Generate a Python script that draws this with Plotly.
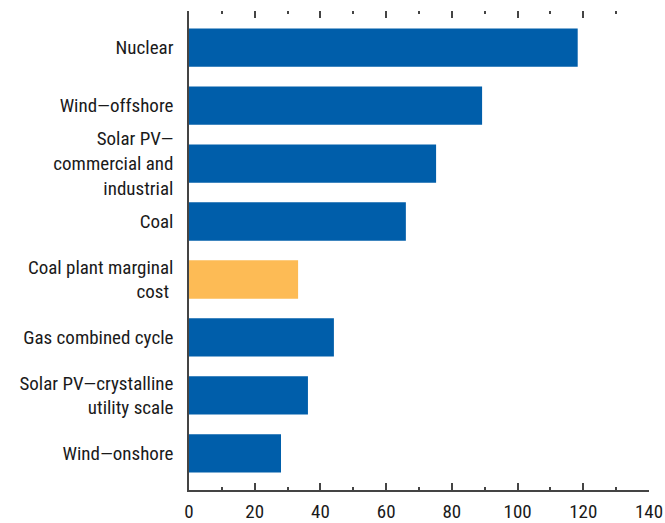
import plotly.graph_objects as go

categories = ["Nuclear", "Wind—offshore", "Solar PV—<br>commercial and<br>industrial", "Coal",
              "Coal plant marginal<br>cost ", "Gas combined cycle",
              "Solar PV—crystalline<br>utility scale", "Wind—onshore"]
values = [118.3, 89.2, 75.2, 66.0, 33.2, 44.1, 36.2, 28.0]
colors = ["#005EAA", "#005EAA", "#005EAA", "#005EAA", "#FDBB55", "#005EAA", "#005EAA", "#005EAA"]
x_ticks = [0, 20, 40, 60, 80, 100, 120, 140]

FONT = "Roboto Condensed, Liberation Sans Narrow, Arial Narrow, sans-serif"

fig = go.Figure()
fig.add_trace(go.Bar(x=values, y=categories, orientation="h", marker_color=colors,
                     marker_line_width=0, width=0.66, showlegend=False))
fig.add_trace(go.Bar(x=[None], y=[categories[0]], orientation="h", xaxis="x2",
                     showlegend=False, hoverinfo="skip"))

fig.update_layout(
    width=665, height=523,
    margin=dict(l=189, r=16, t=11, b=33),
    paper_bgcolor="white", plot_bgcolor="white",
    font=dict(family=FONT, size=18, color="#1a1a1a"),
    xaxis=dict(range=[0, 140], tickvals=x_ticks, showgrid=False, zeroline=False,
               showline=True, linecolor="#444", linewidth=1.5, automargin=False,
               ticks="inside", ticklen=7, tickcolor="#444", tickwidth=1.5,
               minor=dict(dtick=10, ticks="inside", ticklen=3, tickcolor="#444", tickwidth=1.5),
               tickfont=dict(size=19), ticklabelstandoff=3),
    xaxis2=dict(range=[0, 140], overlaying="x", side="top", tickvals=x_ticks, showgrid=False,
                zeroline=False, showline=False, showticklabels=False, automargin=False,
                ticks="inside", ticklen=7, tickcolor="#444", tickwidth=1.5,
                minor=dict(dtick=10, ticks="inside", ticklen=3, tickcolor="#444", tickwidth=1.5)),
    yaxis=dict(categoryorder="array", categoryarray=categories, autorange=False,
               range=[7.63, -0.63], showgrid=False, zeroline=False, automargin=False,
               showline=True, linecolor="#444", linewidth=1.5, ticks="",
               tickfont=dict(size=19), ticklabelstandoff=10),
    bargap=0.34,
)

fig.write_html("out.html", config={"displayModeBar": False},
               post_script="document.body.style.margin='0';document.body.style.overflow='hidden';")
